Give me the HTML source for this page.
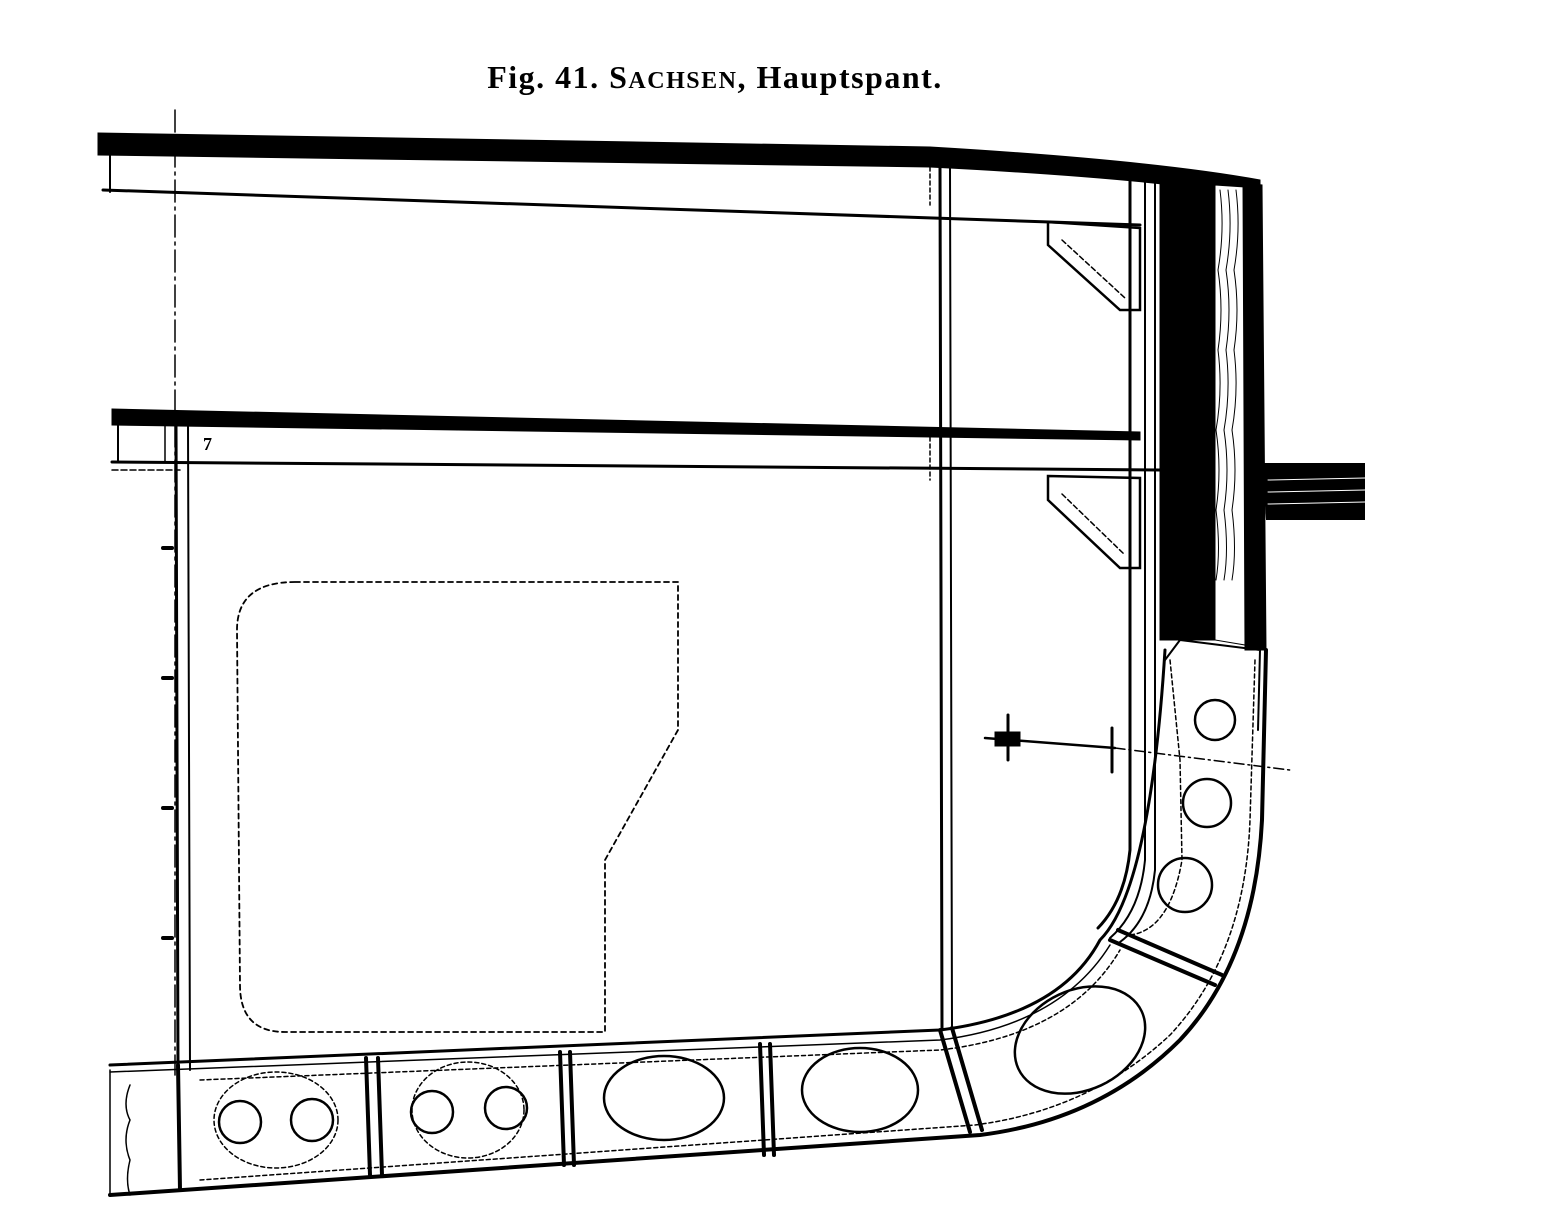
<!DOCTYPE html>
<html><head><meta charset="utf-8"><style>
html,body{margin:0;padding:0;background:#fff;}
svg{display:block;}
</style></head><body>
<svg width="1552" height="1217" viewBox="0 0 1552 1217" xmlns="http://www.w3.org/2000/svg">
<rect width="1552" height="1217" fill="#fff"/>
<text x="715" y="88" text-anchor="middle" font-family="Liberation Serif, serif" font-weight="bold" font-size="32" letter-spacing="1.5">Fig. 41. S<tspan font-size="24">ACHSEN</tspan>, Hauptspant.</text>
<g stroke="#000" fill="none" stroke-linecap="round">
<line x1="175" y1="110" x2="175" y2="1075" stroke-width="1.5" stroke-dasharray="22,5,3,5"/>
<path d="M98,133 L930,147 Q1150,160 1260,180 L1260,197 Q1150,178 930,167 L98,155 Z" fill="#000"/>
<line x1="103" y1="190" x2="1140" y2="225" stroke-width="3"/>
<line x1="110" y1="155" x2="110" y2="192" stroke-width="2"/>
<line x1="930" y1="167" x2="930" y2="205" stroke-width="1.5" stroke-dasharray="4,3"/>
<path d="M112,409 L1140,432 L1140,440 L112,425 Z" fill="#000"/>
<line x1="112" y1="462" x2="1160" y2="470" stroke-width="3"/>
<line x1="112" y1="470" x2="180" y2="470" stroke-width="1.5" stroke-dasharray="6,3"/>
<line x1="118" y1="425" x2="118" y2="462" stroke-width="2"/>
<line x1="165" y1="425" x2="165" y2="462" stroke-width="1.5"/>
<text x="203" y="450" font-family="Liberation Serif,serif" font-size="18" font-weight="bold" fill="#000" stroke="none">7</text>
<line x1="176" y1="425" x2="178" y2="1070" stroke-width="3"/>
<line x1="188" y1="425" x2="190" y2="1070" stroke-width="2"/>
<g stroke-width="4"><line x1="163" y1="548" x2="172" y2="548"/><line x1="163" y1="678" x2="172" y2="678"/><line x1="163" y1="808" x2="172" y2="808"/><line x1="163" y1="938" x2="172" y2="938"/></g>
<line x1="940" y1="168" x2="942" y2="1030" stroke-width="3"/>
<line x1="950" y1="168" x2="952" y2="1030" stroke-width="2"/>
<line x1="930" y1="430" x2="930" y2="480" stroke-width="1.5" stroke-dasharray="4,3"/>
<path d="M1048,222 L1140,228 L1140,310 L1120,310 L1048,245 Z" stroke-width="2.5"/>
<path d="M1062,240 L1125,298" stroke-width="1.5" stroke-dasharray="5,3"/>
<path d="M1048,476 L1140,478 L1140,568 L1120,568 L1048,500 Z" stroke-width="2.5"/>
<path d="M1062,494 L1125,555" stroke-width="1.5" stroke-dasharray="5,3"/>
<path d="M1130,180 L1130,850 Q1125,900 1098,928" stroke-width="3"/>
<path d="M1145,180 L1145,860 Q1140,912 1110,938" stroke-width="2"/>
<path d="M1155,180 L1155,870 Q1150,920 1120,942" stroke-width="2"/>
<path d="M1160,180 L1215,185 L1215,640 L1160,640 Z" fill="#000"/>
<path d="M1215,185 L1245,187 L1245,645 L1215,640 Z" fill="#fff" stroke-width="1"/>
<g stroke-width="1">
<path d="M1220,190 q5,40 -2,80 q6,40 0,80 q5,40 -2,80 q6,40 0,80 q5,40 0,70"/>
<path d="M1228,190 q5,40 -2,80 q6,40 0,80 q5,40 -2,80 q6,40 0,80 q5,40 0,70"/>
<path d="M1236,190 q5,40 -2,80 q6,40 0,80 q5,40 -2,80 q6,40 0,80 q5,40 0,70"/>
</g>
<path d="M1243,183 L1262,185 L1266,650 L1245,650 Z" fill="#000"/>
<path d="M1262,463 L1365,463 L1365,520 L1266,520" fill="#000" stroke="none"/>
<g stroke="#fff" stroke-width="1"><line x1="1268" y1="480" x2="1365" y2="478"/><line x1="1268" y1="492" x2="1365" y2="490"/><line x1="1268" y1="504" x2="1365" y2="502"/></g>
<path d="M1180,640 L1260,650 L1258,730" stroke-width="2"/>
<path d="M1180,640 L1165,660" stroke-width="2"/>
<path d="M1266,650 L1262,820 Q1255,960 1180,1040 Q1100,1120 980,1135 L110,1195" stroke-width="4"/>
<path d="M1255,660 L1250,820 Q1245,955 1170,1035 Q1090,1110 975,1125 L200,1180" stroke-width="1.5" stroke-dasharray="4,3"/>
<path d="M110,1065 L940,1030 Q1060,1015 1100,940 Q1150,890 1165,650" stroke-width="3"/>
<path d="M110,1072 L940,1040 Q1060,1025 1110,945" stroke-width="1.5"/>
<path d="M200,1080 L940,1050 Q1070,1035 1120,950" stroke-width="1.5" stroke-dasharray="4,3"/>
<path d="M1170,660 L1180,760 L1182,860 Q1170,930 1130,935" stroke-width="1.5" stroke-dasharray="4,3"/>
<g stroke-width="4">
<line x1="366" y1="1058" x2="370" y2="1175"/><line x1="378" y1="1058" x2="382" y2="1175"/>
<line x1="560" y1="1052" x2="564" y2="1165"/><line x1="570" y1="1052" x2="574" y2="1165"/>
<line x1="760" y1="1044" x2="764" y2="1155"/><line x1="770" y1="1044" x2="774" y2="1155"/>
<line x1="940" y1="1030" x2="970" y2="1132"/><line x1="952" y1="1028" x2="982" y2="1130"/>
<line x1="1110" y1="940" x2="1215" y2="985"/><line x1="1118" y1="930" x2="1222" y2="975"/>
<line x1="178" y1="1065" x2="180" y2="1190"/>
</g>
<path d="M110,1070 L110,1195 M130,1085 q-8,20 0,35 q-8,20 0,40 q-5,20 0,35" stroke-width="1.5"/>
<g stroke-width="2.5">
<circle cx="240" cy="1122" r="21"/><circle cx="312" cy="1120" r="21"/>
<circle cx="432" cy="1112" r="21"/><circle cx="506" cy="1108" r="21"/>
<ellipse cx="664" cy="1098" rx="60" ry="42"/>
<ellipse cx="860" cy="1090" rx="58" ry="42"/>
<ellipse cx="1080" cy="1040" rx="68" ry="50" transform="rotate(-25 1080 1040)"/>
<circle cx="1215" cy="720" r="20"/><circle cx="1207" cy="803" r="24"/><circle cx="1185" cy="885" r="27"/>
</g>
<g stroke-width="1.5" stroke-dasharray="4,3">
<ellipse cx="276" cy="1120" rx="62" ry="48"/>
<ellipse cx="468" cy="1110" rx="56" ry="48"/>
</g>
<path d="M295,582 L678,582 L678,730 L605,860 L605,1032 L285,1032 Q240,1032 240,985 L237,630 Q237,582 295,582 Z" stroke-width="1.8" stroke-dasharray="5,4"/>
<line x1="985" y1="738" x2="1115" y2="748" stroke-width="2.5"/>
<line x1="1115" y1="748" x2="1290" y2="770" stroke-width="1.5" stroke-dasharray="10,4,2,4"/>
<line x1="1008" y1="715" x2="1008" y2="760" stroke-width="3"/>
<line x1="1112" y1="728" x2="1112" y2="772" stroke-width="3"/>
<rect x="995" y="732" width="25" height="14" fill="#000"/>
</g>
</svg>
</body></html>
